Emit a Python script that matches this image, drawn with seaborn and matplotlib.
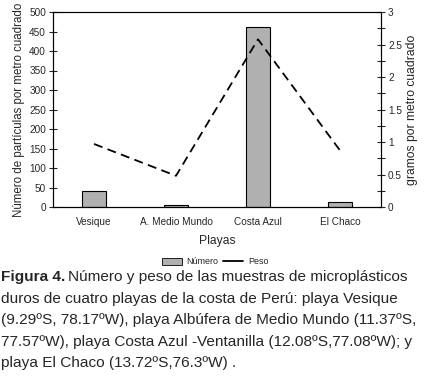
import numpy as np
import pandas as pd
import matplotlib
matplotlib.use("Agg")
import matplotlib.pyplot as plt
import seaborn as sns
from matplotlib.patches import Patch
from matplotlib.lines import Line2D
from matplotlib.ticker import MultipleLocator

playas = ["Vesique", "A. Medio Mundo", "Costa Azul", "El Chaco"]
numero = [42, 5, 462, 13]
peso = [0.97, 0.48, 2.58, 0.87]

sns.set_style("ticks")
plt.rcParams['font.family'] = ['Liberation Sans', 'DejaVu Sans']

df = pd.DataFrame({"Playa": playas, "Numero": numero, "Peso": peso})

fig = plt.figure(figsize=(4.3, 3.77), dpi=100)
ax = fig.add_axes([53/430, 1-207/377, 328/430, 195/377])

sns.barplot(data=df, x="Playa", y="Numero", color="#b0b0b0", width=0.3,
            edgecolor="black", linewidth=0.8, saturation=1, ax=ax)
ax.set_xlim(-0.5, 3.5)
ax.set_ylim(0, 500)
ax.yaxis.set_major_locator(MultipleLocator(50))
ax.set_ylabel("Número de partículas por metro cuadrado", fontsize=8.3, labelpad=3)
ax.set_xlabel("Playas", fontsize=8.7, labelpad=6)
ax.tick_params(axis="y", direction="inout", length=6, width=0.8, labelsize=7.2, pad=2)
ax.tick_params(axis="x", length=0, labelsize=7.2, pad=7)

ax2 = ax.twinx()
sns.lineplot(data=df, x="Playa", y="Peso", color="black", linestyle=(0, (5, 3)),
             linewidth=1.3, ax=ax2)
ax2.set_ylim(0, 3)
ax2.yaxis.set_minor_locator(MultipleLocator(0.25))
ax2.set_yticks([0, 0.5, 1, 1.5, 2, 2.5, 3])
ax2.set_yticklabels(["0", "0.5", "1", "1.5", "2", "2.5", "3"])
ax2.set_ylabel("gramos por metro cuadrado", fontsize=8.7, labelpad=3)
ax2.tick_params(axis="y", which="both", direction="inout", length=6, width=0.8,
                labelsize=7.2, pad=2)
ax2.set_xlim(-0.5, 3.5)

for a in (ax, ax2):
    for s in a.spines.values():
        s.set_visible(True)
        s.set_linewidth(0.8)
        s.set_color("black")

handles = [Patch(facecolor="#b0b0b0", edgecolor="black", linewidth=0.6),
           Line2D([], [], color="black", linewidth=1.3)]
fig.legend(handles, ["Número", "Peso"], loc="center", bbox_to_anchor=(0.5, 1-262/377),
           ncol=2, frameon=False, fontsize=6.5, handlelength=2.2, columnspacing=0.6,
           handletextpad=0.5)

cap_size = 11.1
y0 = 1 - 277/377
dy = 21.6/377
t = fig.text(0.003, y0, "Figura 4.", fontsize=cap_size, fontweight="bold", va="center")
fig.canvas.draw()
bb = t.get_window_extent(fig.canvas.get_renderer())
x1 = bb.x1 / fig.bbox.width
fig.text(x1 + 0.006, y0, "Número y peso de las muestras de microplásticos",
         fontsize=cap_size, va="center")
lines = ["duros de cuatro playas de la costa de Perú: playa Vesique",
         "(9.29ºS, 78.17ºW), playa Albúfera de Medio Mundo (11.37ºS,",
         "77.57ºW), playa Costa Azul -Ventanilla (12.08ºS,77.08ºW); y",
         "playa El Chaco (13.72ºS,76.3ºW) ."]
for i, line in enumerate(lines):
    fig.text(0.003, y0 - (i + 1) * dy, line, fontsize=cap_size, va="center")

fig.savefig("out.png", dpi=100)
